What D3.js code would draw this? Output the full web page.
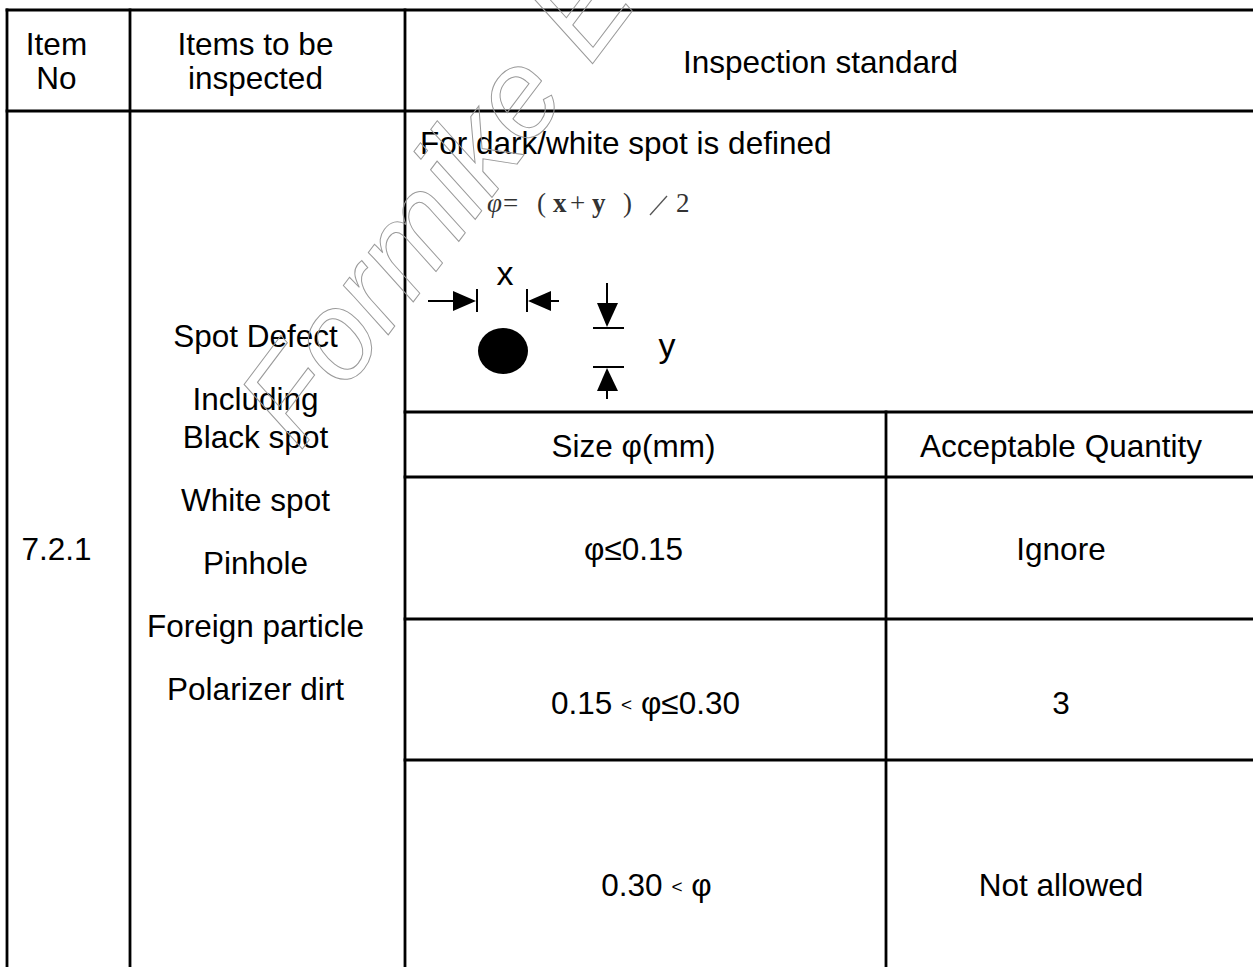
<!DOCTYPE html>
<html>
<head>
<meta charset="utf-8">
<script src="https://cdn.jsdelivr.net/npm/d3@7"></script>
<style>
  body { margin: 0; background: #fff; }
  text { font-family: "Liberation Sans", Arial, sans-serif; fill: #000; }
</style>
</head>
<body>
<div id="chart"></div>
<script>
// Table content
const headers = [["Item", "No"], ["Items to be", "inspected"], ["Inspection standard"]];
const itemNo = "7.2.1";
const inspectedItems = [["Spot Defect"], ["Including", "Black spot"], ["White spot"], ["Pinhole"], ["Foreign particle"], ["Polarizer dirt"]];
const definitionText = "For dark/white spot is defined";
const subHeaders = ["Size φ(mm)", "Acceptable Quantity"];
const sizeRanges = [["φ≤0.15"], ["0.15", "φ≤0.30"], ["0.30", "φ"]];
const quantities = ["Ignore", "3", "Not allowed"];

//   Layout
const w = 1253;
const h = 967;
const fontSize = 31.5;
const colEdges = [7, 130, 405, 886, 1260];
const rowEdges = [10, 111, 412, 477, 619, 760, 1010];
const textShift = -12; // text sits a bit left of cell centre
const subRowNudge = [12, 24, 11];

const svg = d3
  .select("#chart")
  .append("svg")
  .attr("width", w)
  .attr("height", h);

const cx = (a, b) => (a + b) / 2 + textShift;

//   Grid lines
const lines = [
  // horizontal
  [colEdges[0], rowEdges[0], colEdges[4], rowEdges[0]],
  [colEdges[0], rowEdges[1], colEdges[4], rowEdges[1]],
  [colEdges[2], rowEdges[2], colEdges[4], rowEdges[2]],
  [colEdges[2], rowEdges[3], colEdges[4], rowEdges[3]],
  [colEdges[2], rowEdges[4], colEdges[4], rowEdges[4]],
  [colEdges[2], rowEdges[5], colEdges[4], rowEdges[5]],
  // vertical
  [colEdges[0], rowEdges[0], colEdges[0], rowEdges[6]],
  [colEdges[1], rowEdges[0], colEdges[1], rowEdges[6]],
  [colEdges[2], rowEdges[0], colEdges[2], rowEdges[6]],
  [colEdges[3], rowEdges[2], colEdges[3], rowEdges[6]],
  [colEdges[4], rowEdges[0], colEdges[4], rowEdges[6]]
];

svg
  .append("g")
  .attr("id", "grid")
  .selectAll("line")
  .data(lines)
  .enter()
  .append("line")
  .attr("x1", (d) => d[0])
  .attr("y1", (d) => d[1])
  .attr("x2", (d) => d[2])
  .attr("y2", (d) => d[3])
  .attr("stroke", "#000")
  .attr("stroke-width", 2.8)
  .attr("stroke-linecap", "square");

//   Header
const headerX = [cx(colEdges[0], colEdges[1]), cx(colEdges[1], colEdges[2]), cx(colEdges[2], colEdges[4])];
headers.forEach((lbl, i) => {
  const y0 = lbl.length === 1 ? 73 : 55;
  lbl.forEach((t, j) => {
    svg
      .append("text")
      .attr("x", headerX[i])
      .attr("y", y0 + j * 34)
      .attr("text-anchor", "middle")
      .style("font-size", fontSize + "px")
      .text(t);
  });
});

//   Item number
svg
  .append("text")
  .attr("x", headerX[0])
  .attr("y", 560)
  .attr("text-anchor", "middle")
  .style("font-size", fontSize + "px")
  .text(itemNo);

//   Items to be inspected
let yy = 347;
inspectedItems.forEach((para) => {
  para.forEach((t, j) => {
    svg
      .append("text")
      .attr("x", headerX[1])
      .attr("y", yy + j * 38)
      .attr("text-anchor", "middle")
      .style("font-size", fontSize + "px")
      .text(t);
  });
  yy += (para.length - 1) * 38 + 63;
});

//   Definition block
svg
  .append("text")
  .attr("x", 420)
  .attr("y", 154)
  .style("font-size", fontSize + "px")
  .text(definitionText);

const formula = svg
  .append("text")
  .attr("y", 212)
  .style("font-family", "'Liberation Serif', 'Times New Roman', serif")
  .style("font-size", "27px")
  .style("fill", "#333");
[
  ["φ", 487, "italic", "normal"],
  ["=", 503, "normal", "normal"],
  ["(", 537, "normal", "normal"],
  ["x", 553, "normal", "bold"],
  ["+", 570, "normal", "normal"],
  ["y", 592, "normal", "bold"],
  [")", 623, "normal", "normal"],
  ["2", 676, "normal", "normal"]
].forEach((p) => {
  formula
    .append("tspan")
    .attr("x", p[1])
    .style("font-style", p[2])
    .style("font-weight", p[3])
    .text(p[0]);
});
svg
  .append("line")
  .attr("x1", 650)
  .attr("y1", 215)
  .attr("x2", 667)
  .attr("y2", 196)
  .attr("stroke", "#555")
  .attr("stroke-width", 1.3);

//   Spot drawing
const fig = svg.append("g").attr("id", "spot");
fig
  .append("ellipse")
  .attr("cx", 503)
  .attr("cy", 351)
  .attr("rx", 25)
  .attr("ry", 23)
  .attr("fill", "#000");

const strokes = [
  [428, 301, 456, 301],
  [477, 289, 477, 312],
  [527, 289, 527, 312],
  [549, 301, 559, 301],
  [607, 283, 607, 305],
  [593, 328, 624, 328],
  [593, 367, 624, 367],
  [607, 388, 607, 399]
];
fig
  .selectAll("line")
  .data(strokes)
  .enter()
  .append("line")
  .attr("x1", (d) => d[0])
  .attr("y1", (d) => d[1])
  .attr("x2", (d) => d[2])
  .attr("y2", (d) => d[3])
  .attr("stroke", "#000")
  .attr("stroke-width", 2);

const heads = [
  [[453, 291], [453, 311], [476, 301]],
  [[551, 291], [551, 311], [528, 301]],
  [[597, 303], [618, 303], [607, 327]],
  [[597, 391], [618, 391], [607, 368]]
];
fig
  .selectAll("path")
  .data(heads)
  .enter()
  .append("path")
  .attr("d", (d) => d3.line()(d) + "Z")
  .attr("fill", "#000");

fig
  .append("text")
  .attr("x", 505)
  .attr("y", 285)
  .attr("text-anchor", "middle")
  .style("font-size", "34px")
  .text("x");
fig
  .append("text")
  .attr("x", 667)
  .attr("y", 357)
  .attr("text-anchor", "middle")
  .style("font-size", "34px")
  .text("y");

//   Sub table
const subX = [cx(colEdges[2], colEdges[3]), cx(colEdges[3], colEdges[4])];
subHeaders.forEach((t, i) => {
  svg
    .append("text")
    .attr("x", subX[i])
    .attr("y", 457)
    .attr("text-anchor", "middle")
    .style("font-size", fontSize + "px")
    .text(t);
});

sizeRanges.forEach((r, i) => {
  const y = (rowEdges[3 + i] + rowEdges[4 + i]) / 2 + subRowNudge[i];
  const t = svg
    .append("text")
    .attr("x", subX[0] + (r.length > 1 ? 12 : 0) + (i === 2 ? 11 : 0))
    .attr("y", y)
    .attr("text-anchor", "middle")
    .style("font-size", fontSize + "px");
  if (r.length === 1) {
    t.text(r[0]);
  } else {
    t.append("tspan").text(r[0] + " ");
    t.append("tspan").style("font-size", "19px").attr("dy", -3).text("<");
    t.append("tspan").attr("dy", 3).text(" " + r[1]);
  }
  svg
    .append("text")
    .attr("x", subX[1])
    .attr("y", y)
    .attr("text-anchor", "middle")
    .style("font-size", fontSize + "px")
    .text(quantities[i]);
});

//   Watermark
svg
  .append("text")
  .attr("transform", "translate(300,452) rotate(-53)")
  .style("font-size", "124px")
  .style("font-style", "italic")
  .style("fill", "none")
  .style("stroke", "#9a9a9a")
  .style("stroke-width", 1)
  .text("Formike Electronic");
</script>
</body>
</html>
